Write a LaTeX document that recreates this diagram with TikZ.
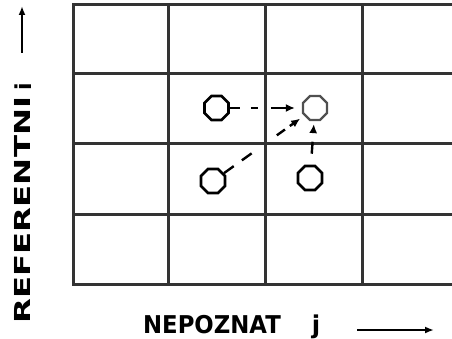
\documentclass[tikz,border=0pt]{standalone}
\usepackage{fontspec}
\setmainfont{DejaVu Sans}
\usetikzlibrary{arrows.meta,shapes.geometric}
\definecolor{gridgray}{HTML}{333333}
\definecolor{tgray}{HTML}{505050}
\begin{document}
\begin{tikzpicture}[x=1pt,y=-1pt,
  gridline/.style={line width=3pt,draw=gridgray,line cap=rect},
  ptnode/.style={regular polygon,regular polygon sides=8,minimum size=26pt,inner sep=0pt,draw=black,line width=2.6pt},
  conn/.style={line width=2.4pt,draw=black,-{Latex[length=9pt,width=8pt]}},
  axis/.style={line width=2pt,draw=black,-{Latex[length=9pt,width=7pt]}},
  lab/.style={font=\fontsize{24.5}{28}\selectfont\bfseries,inner sep=0pt,anchor=base},
  vlab/.style={font=\fontsize{22}{26}\selectfont\bfseries,inner sep=0pt,anchor=base,rotate=90}
]
\useasboundingbox (0,0) rectangle (452,339);
% grid
\foreach \y in {5,74,144,214,284} \draw[gridline] (73,\y) -- (470,\y);
\foreach \x in {73,168,265,362} \draw[gridline] (\x,5) -- (\x,284);
% points
\node[ptnode] (a) at (216.5,108) {};
\node[ptnode] (b) at (213,181) {};
\node[ptnode] (c) at (310,178) {};
\node[ptnode,draw=tgray,line width=2.2pt] (t) at (315,108) {};
% connectors
\draw[conn,dash pattern=on 10pt off 11pt on 7pt off 13pt on 60pt,shorten >=7pt] (a.east) -- (t.west);
\draw[conn,dash pattern=on 12pt off 10pt on 12pt off 31pt on 10pt off 6pt on 60pt,shorten >=5pt] (b) -- (t);
\draw[conn,dash pattern=on 0pt off 11pt on 12pt off 11pt on 60pt,shorten >=3pt] (c) -- (t);
% axes
\coordinate (up0) at (22,53);
\coordinate (up1) at (22,6);
\draw[axis] (up0) -- (up1);
\coordinate (r0) at (357,330);
\coordinate (r1) at (434,330);
\draw[axis] (r0) -- (r1);
% labels
\node[vlab] (ref) at (30,210) {\scalebox{1.47}[1]{REFERENTNI}};
\node[vlab] (iv) at (31,87) {i};
\node[lab] (nep) at (212,333) {\scalebox{0.93}[1]{NEPOZNAT}};
\node[lab] (jv) at (316,333) {j};
\end{tikzpicture}
\end{document}
